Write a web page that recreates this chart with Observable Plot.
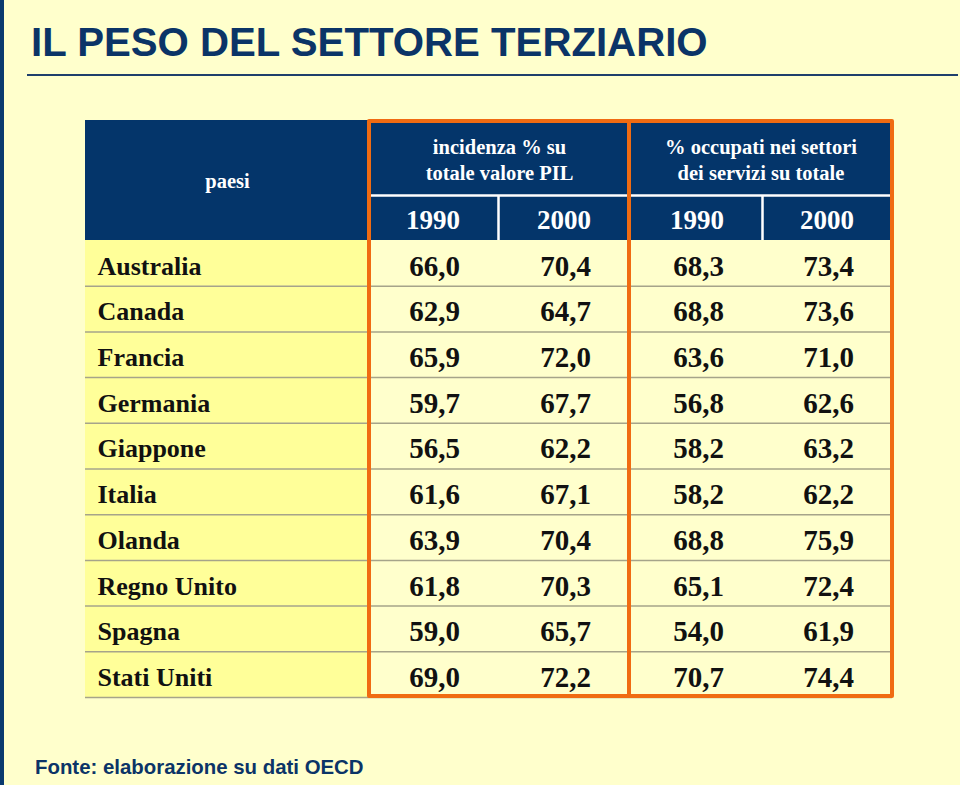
<!DOCTYPE html>
<html>
<head>
<meta charset="utf-8">
<script src="https://cdn.jsdelivr.net/npm/d3@7"></script>
<script src="https://cdn.jsdelivr.net/npm/@observablehq/plot@0.6"></script>
<style>
  html, body { margin: 0; padding: 0; background: #FFFFCC; }
  #page { position: relative; width: 960px; height: 785px; background: #FFFFCC; overflow: hidden; }
  #bar { position: absolute; left: 0; top: 0; width: 4px; height: 785px; background: #0A3A6E; }
  #title { position: absolute; left: 31px; top: 19px; margin: 0; font: bold 40.2px "Liberation Sans", Arial, sans-serif; color: #0B3467; white-space: nowrap; line-height: 48px; }
  #rule { position: absolute; left: 27px; top: 74px; width: 931px; height: 2px; background: #1E3F6C; }
  #chart { position: absolute; left: 0; top: 110px; }
  #footer { position: absolute; left: 35px; top: 755px; margin: 0; font: bold 20.4px "Liberation Sans", Arial, sans-serif; color: #0B3467; white-space: nowrap; line-height: 24px; }
</style>
</head>
<body>
<div id="page">
  <div id="bar"></div>
  <h1 id="title">IL PESO DEL SETTORE TERZIARIO</h1>
  <div id="rule"></div>
  <div id="chart"></div>
  <p id="footer">Fonte: elaborazione su dati OECD</p>
</div>
<script>
// ---- data ----
const paesi = ["Australia", "Canada", "Francia", "Germania", "Giappone", "Italia", "Olanda", "Regno Unito", "Spagna", "Stati Uniti"];
const pil1990 = [66.0, 62.9, 65.9, 59.7, 56.5, 61.6, 63.9, 61.8, 59.0, 69.0];
const pil2000 = [70.4, 64.7, 72.0, 67.7, 62.2, 67.1, 70.4, 70.3, 65.7, 72.2];
const occ1990 = [68.3, 68.8, 63.6, 56.8, 58.2, 58.2, 68.8, 65.1, 54.0, 70.7];
const occ2000 = [73.4, 73.6, 71.0, 62.6, 63.2, 62.2, 75.9, 72.4, 61.9, 74.4];
const anni = ["1990", "2000"];
const gruppi = ["incidenza % su\ntotale valore PIL", "% occupati nei settori\ndei servizi su totale"];
const intestazionePaesi = "paesi";

// ---- layout (page pixel grid) ----
const L = {
  left: 85, countryRight: 369,
  colEdges: [369, 498, 629, 762, 892],
  headTop: 120, headSplit: 195, headBottom: 240,
  rowH: 45.7, pad: 38.5, nameX: 97,
  boxTop: 121, boxBottom: 696
};
const series = [pil1990, pil2000, occ1990, occ2000];
const fmt = v => d3.format(".1f")(v).replace(".", ",");
const rowTop = i => L.headBottom + i * L.rowH;

const rows = paesi.map((p, i) => ({p, i}));
const cells = [];
series.forEach((s, c) => s.forEach((v, i) => cells.push({c, i, v})));
const yearCells = [0, 1, 2, 3].map(c => ({c, label: anni[c % 2]}));
const groups = gruppi.map((g, k) => ({k, label: g}));

const serif = "'Liberation Serif', 'Times New Roman', serif";

const plot = Plot.plot({
  width: 960,
  height: 600,
  margin: 0,
  x: {type: "linear", domain: [0, 960], range: [0, 960], axis: null},
  y: {type: "linear", domain: [110, 710], range: [0, 600], axis: null},
  style: {background: "transparent", fontFamily: serif},
  marks: [
    // country column cells
    Plot.rect(rows, {x1: L.left, x2: L.countryRight, y1: d => rowTop(d.i), y2: d => rowTop(d.i + 1), fill: "#FFFF99"}),
    // header block
    Plot.rect([0], {x1: L.left, x2: L.colEdges[4], y1: L.headTop, y2: L.headBottom, fill: "#04356A"}),
    // header white separators
    Plot.ruleY([L.headSplit], {x1: L.countryRight, x2: L.colEdges[4], stroke: "white", strokeWidth: 2.5}),
    Plot.ruleX([L.colEdges[1], L.colEdges[3]], {y1: L.headSplit, y2: L.headBottom, stroke: "white", strokeWidth: 2.5}),
    // row separators
    Plot.ruleY(rows, {y: d => rowTop(d.i + 1), x1: L.left, x2: L.colEdges[4], stroke: "#A6A48A", strokeWidth: 1.5}),
    // orange group boxes
    Plot.rect(groups, {x1: d => L.colEdges[d.k * 2], x2: d => L.colEdges[d.k * 2 + 2], y1: L.boxTop, y2: L.boxBottom, fill: "none", stroke: "#F06B12", strokeWidth: 4, strokeLinejoin: "round"}),
    // header texts
    Plot.text([intestazionePaesi], {x: (L.left + L.countryRight) / 2, y: (L.headTop + L.headBottom) / 2 + 1, text: d => d, fill: "white", fontSize: 20.5, fontWeight: "bold", lineAnchor: "middle"}),
    Plot.text(groups, {x: d => (L.colEdges[d.k * 2] + L.colEdges[d.k * 2 + 2]) / 2, y: 158.5, text: "label", fill: "white", fontSize: 20.5, fontWeight: "bold", lineAnchor: "middle", lineHeight: 1.26}),
    Plot.text(yearCells, {x: d => L.colEdges[d.c + 1] - L.pad, y: (L.headSplit + L.headBottom) / 2 + 2.5, text: "label", fill: "white", fontSize: 27, fontWeight: "bold", textAnchor: "end", lineAnchor: "middle"}),
    // country names
    Plot.text(rows, {x: L.nameX, y: d => rowTop(d.i) + L.rowH / 2 + 3, text: "p", fill: "#111", fontSize: 26, fontWeight: "bold", textAnchor: "start", lineAnchor: "middle"}),
    // values
    Plot.text(cells, {x: d => L.colEdges[d.c + 1] - L.pad, y: d => rowTop(d.i) + L.rowH / 2 + 3, text: d => fmt(d.v), fill: "#111", fontSize: 29, fontWeight: "bold", textAnchor: "end", lineAnchor: "middle"})
  ]
});
document.getElementById("chart").appendChild(plot);
</script>
</body>
</html>
